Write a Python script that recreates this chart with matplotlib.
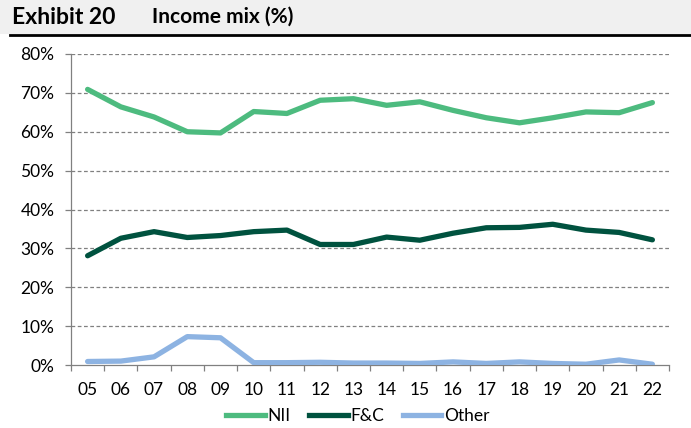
import matplotlib
matplotlib.use("Agg")
import matplotlib.pyplot as plt
from matplotlib.lines import Line2D
from matplotlib.patches import Rectangle
import numpy as np

years = ["05","06","07","08","09","10","11","12","13","14","15","16","17","18","19","20","21","22"]
nii = [70.9,66.4,63.8,60.0,59.7,65.2,64.7,68.1,68.5,66.8,67.7,65.5,63.6,62.3,63.6,65.1,64.9,67.5]
fc = [28.1,32.6,34.3,32.8,33.3,34.3,34.7,31.0,31.0,32.9,32.1,33.9,35.3,35.4,36.2,34.7,34.1,32.2]
other = [0.9,1.0,2.1,7.3,7.0,0.6,0.6,0.7,0.5,0.5,0.4,0.8,0.4,0.8,0.4,0.2,1.3,0.2]
yticks = [0,10,20,30,40,50,60,70,80]

c_nii = "#4dbb7f"
c_fc = "#00523f"
c_other = "#8db3e2"

plt.rcParams['font.family'] = ['Lato', 'DejaVu Sans']

fig = plt.figure(figsize=(6.91, 4.28), dpi=100)
# header band
fig.patches.append(Rectangle((0, 1-34/428), 1, 34/428, transform=fig.transFigure,
                             facecolor="#f0f0f0", edgecolor="none", zorder=0))
fig.lines.append(Line2D([10/691, 1], [1-35/428, 1-35/428], transform=fig.transFigure,
                        color="black", lw=2))
fig.text(12/691, 1-17/428, "Exhibit 20", fontsize=16.5, fontweight="bold", va="center", ha="left")
fig.text(152/691, 1-17/428, "Income mix (%)", fontsize=15, fontweight="bold", va="center", ha="left")

ax = fig.add_axes([71/691, 1-365/428, (669-71)/691, (365-54)/428])
x = np.arange(len(years))
lw = 3.8
ax.plot(x, nii, color=c_nii, lw=lw, solid_capstyle="round", label="NII", zorder=3)
ax.plot(x, fc, color=c_fc, lw=lw, solid_capstyle="round", label="F&C", zorder=3)
ax.plot(x, other, color=c_other, lw=lw, solid_capstyle="round", label="Other", zorder=3)

ax.set_xlim(-0.5, len(years)-0.5)
ax.set_ylim(0, 80)
ax.set_yticks(yticks)
ax.set_yticklabels([f"{v}%" for v in yticks], fontsize=12.5)
for v in yticks[1:]:
    ax.axhline(v, color="#808080", lw=0.9, ls=(0, (3, 2)), zorder=1)

ax.set_xticks(x)
ax.set_xticklabels(years, fontsize=12.5)
ax.tick_params(axis="x", which="major", length=0, pad=12)
ax.set_xticks(np.arange(-0.5, len(years)), minor=True)
ax.tick_params(axis="x", which="minor", length=4, color="#808080", width=0.9)
ax.tick_params(axis="y", length=4, color="#808080", width=0.9, pad=8)

for s in ["top", "right"]:
    ax.spines[s].set_visible(False)
ax.spines["left"].set_color("#808080")
ax.spines["bottom"].set_color("#808080")
ax.spines["left"].set_linewidth(0.9)
ax.spines["bottom"].set_linewidth(0.9)

leg = fig.legend(handles=[Line2D([], [], color=c_nii, lw=lw, label="NII"),
                          Line2D([], [], color=c_fc, lw=lw, label="F&C"),
                          Line2D([], [], color=c_other, lw=lw, label="Other")],
                 loc="center", bbox_to_anchor=(358/691, 1-416/428), ncol=3, frameon=False,
                 fontsize=12.5, handlelength=2.2, handletextpad=0.15, columnspacing=1.1,
                 borderpad=0, borderaxespad=0)

fig.savefig("out.png", dpi=100)
